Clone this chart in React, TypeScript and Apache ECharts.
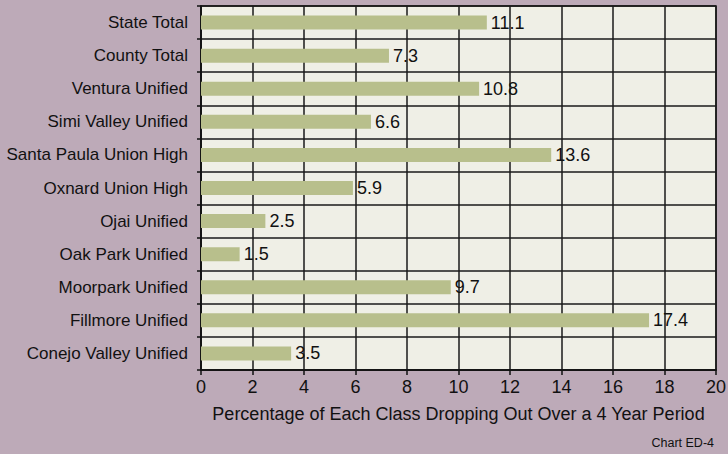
import React, { useEffect, useRef } from "react";
import * as echarts from "echarts";

const categories = [
  "State Total",
  "County Total",
  "Ventura Unified",
  "Simi Valley Unified",
  "Santa Paula Union High",
  "Oxnard Union High",
  "Ojai Unified",
  "Oak Park Unified",
  "Moorpark Unified",
  "Fillmore Unified",
  "Conejo Valley Unified",
];
const values = [11.1, 7.3, 10.8, 6.6, 13.6, 5.9, 2.5, 1.5, 9.7, 17.4, 3.5];
const xTicks = [0, 2, 4, 6, 8, 10, 12, 14, 16, 18, 20];
const axisTitle = "Percentage of Each Class Dropping Out Over a 4 Year Period";
const footnote = "Chart ED-4";

const FONT = "'Liberation Sans Narrow', 'Arial Narrow', 'Liberation Sans', sans-serif";

export default function App() {
  const ref = useRef<HTMLDivElement>(null);
  useEffect(() => {
    if (!ref.current) return;
    const chart = echarts.init(ref.current, undefined, { renderer: "svg" });
    chart.setOption({
      animation: false,
      backgroundColor: "#bdaab8",
      grid: {
        left: 201,
        right: 12,
        top: 6,
        bottom: 84,
        containLabel: false,
        outerBoundsMode: "none",
        show: true,
        backgroundColor: "#efefe6",
        borderColor: "#111",
        borderWidth: 1.5,
      },
      xAxis: {
        type: "value",
        min: xTicks[0],
        max: xTicks[xTicks.length - 1],
        interval: 2,
        position: "bottom",
        axisLine: { show: true, onZero: false, lineStyle: { color: "#111", width: 1.5 } },
        axisTick: { show: true, length: 5, lineStyle: { color: "#111", width: 1.5 } },
        axisLabel: { color: "#111", fontFamily: FONT, fontSize: 18, margin: 8 },
        splitLine: { show: true, lineStyle: { color: "#1a1a1a", width: 1.5 } },
        name: axisTitle,
        nameLocation: "middle",
        nameGap: 35,
        nameTextStyle: { color: "#111", fontFamily: FONT, fontSize: 18 },
      },
      yAxis: {
        type: "category",
        data: categories,
        inverse: true,
        axisLine: { show: true, lineStyle: { color: "#111", width: 1.5 } },
        axisTick: { show: true, length: 4, lineStyle: { color: "#111", width: 1.5 } },
        axisLabel: { color: "#111", fontFamily: FONT, fontSize: 17, margin: 13 },
        splitLine: { show: true, lineStyle: { color: "#1a1a1a", width: 1.5 } },
      },
      graphic: [
        {
          type: "text",
          right: 14,
          bottom: 5,
          style: { text: footnote, fill: "#111", font: "12.5px 'Liberation Sans', Arial, sans-serif" },
        },
      ],
      series: [
        {
          type: "bar",
          data: values,
          barWidth: 14,
          z: 1,
          itemStyle: { color: "#b8bf8c" },
          label: {
            show: true,
            position: "right",
            distance: 4,
            color: "#111",
            fontFamily: FONT,
            fontSize: 18,
          },
        },
      ],
    });
    return () => chart.dispose();
  }, []);
  return <div ref={ref} style={{ width: 728, height: 454, position: "fixed", left: 0, top: 0 }} />;
}
